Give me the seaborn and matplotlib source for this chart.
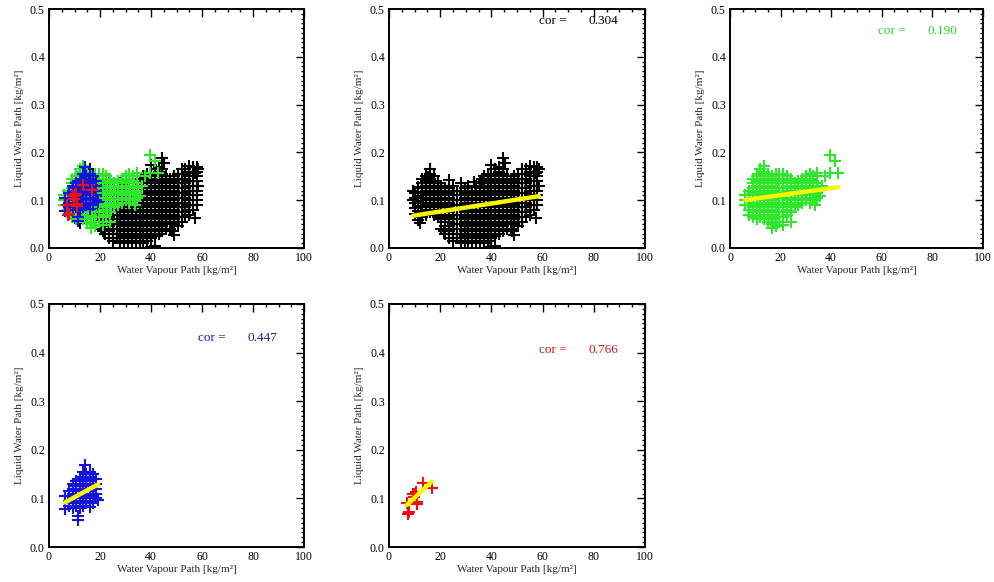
import numpy as np
import pandas as pd
import matplotlib
matplotlib.use("Agg")
import matplotlib.pyplot as plt
from matplotlib.ticker import MultipleLocator, FormatStrFormatter
import seaborn as sns

# Each series: WVP positions [kg/m2] and the LWP values [kg/m2] observed at each position
black_wvp = [10, 11.5, 13, 14.5, 16, 17.5, 19, 20.5, 22, 23.5, 25, 26.5, 28, 29.5,
             31, 32.5, 34, 35.5, 37, 38.5, 40, 41.5, 43, 44.5, 46, 47.5, 49, 50.5,
             52, 53.5, 55, 56.5, 58,
             9.4, 15.4, 12.2, 21.3, 36.2, 45.2, 48.1, 57.4, 58.6, 33.1]
black_lwp = [
    [0.072, 0.083, 0.094, 0.105, 0.116],
    [0.058, 0.068, 0.078, 0.088, 0.098, 0.108, 0.118, 0.128],
    [0.065, 0.075, 0.085, 0.095, 0.105, 0.115, 0.125, 0.135, 0.145],
    [0.07, 0.08, 0.09, 0.10, 0.11, 0.12, 0.13, 0.14, 0.15],
    [0.075, 0.085, 0.095, 0.105, 0.115, 0.125, 0.135, 0.145, 0.155, 0.165],
    [0.07, 0.08, 0.09, 0.10, 0.11, 0.12, 0.13, 0.14, 0.15],
    [0.065, 0.075, 0.085, 0.095, 0.105, 0.115, 0.125, 0.135],
    [0.04, 0.06, 0.07, 0.08, 0.09, 0.10, 0.11, 0.12, 0.13],
    [0.03, 0.045, 0.055, 0.065, 0.075, 0.085, 0.095, 0.105, 0.115, 0.125],
    [0.02, 0.035, 0.045, 0.055, 0.065, 0.075, 0.085, 0.095, 0.105, 0.115, 0.125, 0.143],
    [0.015, 0.03, 0.04, 0.05, 0.06, 0.07, 0.08, 0.09, 0.10, 0.11, 0.12, 0.13],
    [0.02, 0.03, 0.04, 0.05, 0.06, 0.07, 0.08, 0.09, 0.10, 0.11, 0.12],
    [0.01, 0.02, 0.03, 0.04, 0.05, 0.06, 0.07, 0.08, 0.09, 0.10, 0.11, 0.12, 0.135],
    [0.015, 0.025, 0.035, 0.045, 0.055, 0.065, 0.075, 0.085, 0.095, 0.105, 0.115, 0.125],
    [0.01, 0.02, 0.03, 0.04, 0.05, 0.06, 0.07, 0.08, 0.09, 0.10, 0.11, 0.12, 0.13],
    [0.015, 0.025, 0.035, 0.045, 0.055, 0.065, 0.075, 0.085, 0.095, 0.105, 0.115],
    [0.01, 0.02, 0.03, 0.04, 0.05, 0.06, 0.07, 0.08, 0.09, 0.10, 0.11, 0.12, 0.13],
    [0.015, 0.025, 0.035, 0.045, 0.055, 0.065, 0.075, 0.085, 0.095, 0.105, 0.115, 0.125, 0.135],
    [0.01, 0.02, 0.03, 0.04, 0.05, 0.06, 0.07, 0.08, 0.09, 0.10, 0.11, 0.12, 0.13, 0.14, 0.15],
    [0.015, 0.025, 0.035, 0.045, 0.055, 0.065, 0.075, 0.085, 0.095, 0.105, 0.115, 0.125, 0.135, 0.145, 0.155],
    [0.003, 0.02, 0.03, 0.04, 0.05, 0.06, 0.07, 0.08, 0.09, 0.10, 0.11, 0.12, 0.13, 0.14, 0.15, 0.174],
    [0.005, 0.025, 0.035, 0.045, 0.055, 0.065, 0.075, 0.085, 0.095, 0.105, 0.115, 0.125, 0.135, 0.145, 0.155, 0.165],
    [0.03, 0.04, 0.05, 0.06, 0.07, 0.08, 0.09, 0.10, 0.11, 0.12, 0.13, 0.14, 0.15, 0.16, 0.17],
    [0.035, 0.045, 0.055, 0.065, 0.075, 0.085, 0.095, 0.105, 0.115, 0.125, 0.135, 0.145, 0.155, 0.165, 0.188],
    [0.04, 0.05, 0.06, 0.07, 0.08, 0.09, 0.10, 0.11, 0.12, 0.13, 0.14, 0.15],
    [0.04, 0.055, 0.065, 0.075, 0.085, 0.095, 0.105, 0.115, 0.125, 0.135, 0.145],
    [0.027, 0.05, 0.06, 0.07, 0.08, 0.09, 0.10, 0.11, 0.12, 0.13, 0.14, 0.15],
    [0.045, 0.055, 0.065, 0.075, 0.085, 0.095, 0.105, 0.115, 0.125, 0.135, 0.145, 0.155],
    [0.055, 0.065, 0.075, 0.085, 0.095, 0.105, 0.115, 0.125, 0.135, 0.145, 0.155, 0.165],
    [0.065, 0.075, 0.085, 0.095, 0.105, 0.115, 0.125, 0.135, 0.145, 0.155, 0.165],
    [0.07, 0.08, 0.09, 0.10, 0.11, 0.12, 0.13, 0.14, 0.15, 0.16, 0.172],
    [0.08, 0.09, 0.10, 0.11, 0.12, 0.13, 0.14, 0.15, 0.16, 0.17],
    [0.09, 0.10, 0.11, 0.12, 0.13, 0.14, 0.15, 0.16, 0.17],
    [0.10, 0.12],
    [0.148],
    [0.052],
    [0.036],
    [0.145],
    [0.178],
    [0.035],
    [0.062, 0.156],
    [0.13, 0.165],
    [0.138],
]

green_wvp = [6, 7.5, 9, 10.5, 12, 13.5, 15, 16.5, 18, 19.5, 21, 22.5, 24, 25.5, 27,
             28.5, 30, 31.5, 33, 34.5,
             35.6, 37.5, 39.5, 41.5, 42.8, 36.5, 33.6]
green_lwp = [
    [0.09, 0.10, 0.11],
    [0.069, 0.08, 0.09, 0.10, 0.11, 0.12],
    [0.065, 0.075, 0.085, 0.095, 0.105, 0.115, 0.125, 0.135, 0.145],
    [0.06, 0.07, 0.08, 0.09, 0.10, 0.11, 0.12, 0.13, 0.14, 0.15],
    [0.065, 0.075, 0.085, 0.095, 0.105, 0.115, 0.125, 0.135, 0.145, 0.155, 0.165],
    [0.06, 0.07, 0.08, 0.09, 0.10, 0.11, 0.12, 0.13, 0.14, 0.15, 0.16, 0.171],
    [0.055, 0.065, 0.075, 0.085, 0.095, 0.105, 0.115, 0.125, 0.135, 0.145, 0.155],
    [0.041, 0.05, 0.06, 0.07, 0.08, 0.09, 0.10, 0.11, 0.12, 0.13, 0.14, 0.15],
    [0.045, 0.055, 0.065, 0.075, 0.085, 0.095, 0.105, 0.115, 0.125, 0.135, 0.145, 0.155],
    [0.055, 0.065, 0.075, 0.085, 0.095, 0.105, 0.115, 0.125, 0.135, 0.145, 0.155],
    [0.048, 0.065, 0.075, 0.085, 0.095, 0.105, 0.115, 0.125, 0.135, 0.145, 0.155],
    [0.07, 0.08, 0.09, 0.10, 0.11, 0.12, 0.13, 0.14, 0.15],
    [0.055, 0.075, 0.085, 0.095, 0.105, 0.115, 0.125, 0.135, 0.145],
    [0.085, 0.095, 0.105, 0.115, 0.125, 0.135],
    [0.09, 0.10, 0.11, 0.12, 0.13, 0.14],
    [0.095, 0.105, 0.115, 0.125, 0.135, 0.145],
    [0.10, 0.11, 0.12, 0.13, 0.14, 0.15],
    [0.095, 0.105, 0.115, 0.125, 0.135, 0.145, 0.155],
    [0.10, 0.11, 0.12, 0.13, 0.14, 0.15],
    [0.105, 0.115, 0.125, 0.135, 0.157],
    [0.108],
    [0.150],
    [0.157, 0.195],
    [0.183],
    [0.157],
    [0.13],
    [0.090],
]

blue_wvp = [6.3, 8, 9.3, 10.6, 11.5, 12, 13.3, 14.1, 14.6, 16, 17.3, 18.6, 19.3]
blue_lwp = [
    [0.078, 0.105],
    [0.085, 0.095, 0.105, 0.115],
    [0.08, 0.09, 0.10, 0.11, 0.12, 0.13],
    [0.085, 0.095, 0.105, 0.115, 0.125, 0.135],
    [0.056, 0.064],
    [0.08, 0.09, 0.10, 0.11, 0.12, 0.13, 0.14],
    [0.085, 0.095, 0.105, 0.115, 0.125, 0.135, 0.145, 0.155],
    [0.169],
    [0.09, 0.10, 0.11, 0.12, 0.13, 0.14, 0.15],
    [0.082, 0.095, 0.105, 0.115, 0.125, 0.135, 0.145, 0.155],
    [0.09, 0.10, 0.11, 0.12, 0.13, 0.14, 0.15],
    [0.10, 0.11, 0.12, 0.13, 0.14],
    [0.097],
]

red_wvp = [6.9, 7.6, 7.9, 9.5, 9.9, 10.2, 10.5, 10.8, 11.1, 13.2, 16.7]
red_lwp = [[0.090], [0.068], [0.071], [0.109], [0.103], [0.110], [0.114],
           [0.088], [0.093], [0.131], [0.121]]

series_colors = ["#000000", "#2ee62a", "#1414dc", "#ee1010"]
label_colors = ["#000000", "#2ed62a", "#1c1c9c", "#cc1818"]
cor_values = ["0.304", "0.190", "0.447", "0.766"]

# least-squares lines, LWP = intercept + slope * WVP
fit_slope = [0.000833, 0.00073, 0.00286, 0.00495]
fit_intercept = [0.0597, 0.096, 0.0738, 0.052]


def expand(wvp, lwp):
    xs, ys = [], []
    for x, col in zip(wvp, lwp):
        for y in col:
            xs.append(x)
            ys.append(y)
    return pd.DataFrame({"wvp": xs, "lwp": ys})


frames = [expand(black_wvp, black_lwp), expand(green_wvp, green_lwp),
          expand(blue_wvp, blue_lwp), expand(red_wvp, red_lwp)]

sns.set_style("white")
plt.rcParams["font.family"] = ["Liberation Serif", "DejaVu Serif"]

fig = plt.figure(figsize=(9.94, 5.82), dpi=100)
W, H = 994.0, 582.0


def add_axes(l, t, r, b):
    return fig.add_axes([l / W, 1 - b / H, (r - l) / W, (b - t) / H])


ax_all = add_axes(49, 9, 304, 248)
ax_sets = [add_axes(389, 9, 645, 248), add_axes(730, 9, 983, 248),
           add_axes(49, 304, 304, 547), add_axes(389, 304, 645, 547)]

MS = 64
LW = 1.5


def style(ax):
    ax.set_xlim(0, 100)
    ax.set_ylim(0, 0.5)
    ax.xaxis.set_major_locator(MultipleLocator(20))
    ax.xaxis.set_minor_locator(MultipleLocator(5))
    ax.yaxis.set_major_locator(MultipleLocator(0.1))
    ax.yaxis.set_minor_locator(MultipleLocator(0.01))
    ax.yaxis.set_major_formatter(FormatStrFormatter("%.1f"))
    ax.tick_params(which="both", direction="in", top=True, right=True,
                   width=1.0, colors="black", labelsize=8.5, pad=3)
    ax.tick_params(which="major", length=5.5)
    ax.tick_params(which="minor", length=2.5)
    for s in ax.spines.values():
        s.set_linewidth(1.4)
        s.set_color("black")
    ax.set_xlabel("Water Vapour Path [kg/m²]", fontsize=8, labelpad=1)
    ax.set_ylabel("Liquid Water Path [kg/m²]", fontsize=8, labelpad=4)


# combined panel: all four sets overlaid
for df, c in zip(frames, series_colors):
    sns.scatterplot(data=df, x="wvp", y="lwp", marker="+", s=MS, color=c,
                    linewidth=LW, ax=ax_all, legend=False)
style(ax_all)

text_y = [0.475, 0.455, 0.43, 0.405]
for i, ax in enumerate(ax_sets):
    df = frames[i]
    sns.scatterplot(data=df, x="wvp", y="lwp", marker="+", s=MS,
                    color=series_colors[i], linewidth=LW, ax=ax, legend=False)
    xfit = np.array([df["wvp"].min(), df["wvp"].max()])
    line = pd.DataFrame({"wvp": xfit, "lwp": fit_intercept[i] + fit_slope[i] * xfit})
    sns.lineplot(data=line, x="wvp", y="lwp", color="#f8f800", linewidth=3.2,
                 ax=ax, legend=False)
    ax.text(58.5, text_y[i], "cor =", color=label_colors[i], fontsize=9.5,
            va="center", ha="left")
    ax.text(78, text_y[i], cor_values[i], color=label_colors[i], fontsize=9.5,
            va="center", ha="left")
    style(ax)

fig.savefig("out.png", dpi=100)
